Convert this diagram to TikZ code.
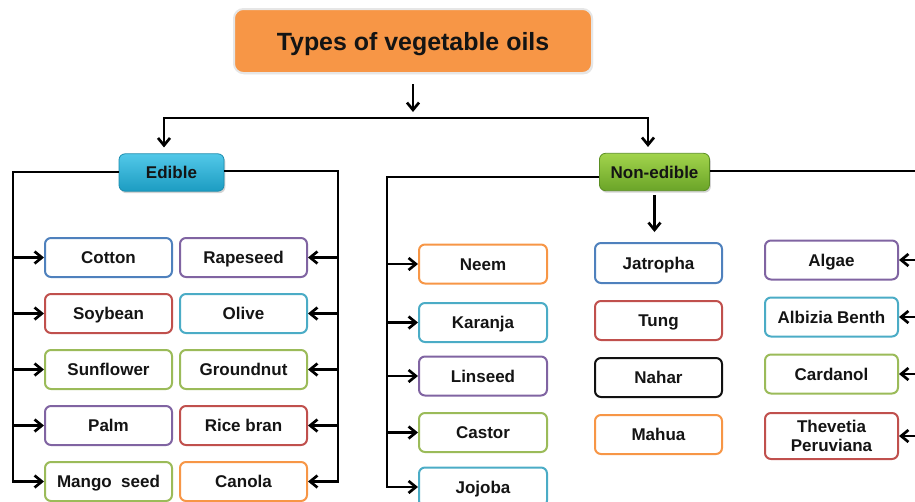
\documentclass[tikz,border=0pt]{standalone}
\usepackage{fontspec}
\setmainfont{Liberation Sans}
\usetikzlibrary{arrows.meta,shadows}
\definecolor{cblue}{HTML}{4F81BD}
\definecolor{cpurple}{HTML}{8064A2}
\definecolor{cred}{HTML}{C0504D}
\definecolor{caqua}{HTML}{4BACC6}
\definecolor{cgreen}{HTML}{9BBB59}
\definecolor{corange}{HTML}{F79646}
\definecolor{cblack}{HTML}{111111}
\definecolor{titlefill}{HTML}{F79646}
\definecolor{titleedge}{HTML}{E6E6E6}
\definecolor{edtop}{HTML}{52C8E8}
\definecolor{edbot}{HTML}{1C9CC2}
\definecolor{ededge}{HTML}{1A8CAE}
\definecolor{netop}{HTML}{A2D44C}
\definecolor{nebot}{HTML}{6AA428}
\definecolor{needge}{HTML}{5A8E22}
\definecolor{txt}{HTML}{141414}
\begin{document}
\begin{tikzpicture}[x=0.75pt,y=-0.75pt,
  ln/.style={line width=2pt, draw=black},
  arr/.style={ln, -{Straight Barb[length=5.5pt,width=9pt]}},
  itembase/.style={draw=#1, line width=1.5pt, rounded corners=4.5pt, fill=white,
    minimum height=29.25pt, inner sep=0pt, text=txt, align=center,
    font=\fontsize{12.75}{14.5}\selectfont\bfseries},
  item/.style={itembase=#1, text height=9.2pt, text depth=0pt},
  ecol/.style={minimum width=95.25pt},
  ncola/.style={minimum width=96pt},
  ncolb/.style={minimum width=95.25pt},
  ncolc/.style={minimum width=99.75pt},
  category/.style={draw=#1, line width=0.6pt, rounded corners=4.5pt, inner sep=0pt,
    minimum height=28pt, text=txt, font=\fontsize{12.75}{14.5}\selectfont\bfseries,
    text height=9.2pt, text depth=0pt,
    drop shadow={shadow xshift=1pt, shadow yshift=-1.5pt, opacity=0.35}},
  titlebox/.style={draw=titleedge, line width=1.5pt, fill=titlefill, rounded corners=7pt,
    minimum width=268.5pt, minimum height=48pt, inner sep=0pt, text=txt,
    font=\fontsize{18.7}{22}\selectfont\bfseries, text height=13.5pt, text depth=0pt,
    drop shadow={shadow xshift=0.8pt, shadow yshift=-1pt, opacity=0.2}}
]
\useasboundingbox (0,0) rectangle (915,501);
\clip (0,0) rectangle (915,501);

% title and categories
\node[titlebox] (title) at (413,41) {Types of vegetable oils};
\node[category=ededge, top color=edtop, bottom color=edbot, minimum width=78.75pt] (edible) at (171.5,172.5) {Edible};
\node[category=needge, top color=netop, bottom color=nebot, minimum width=82.5pt] (ne) at (654.5,172) {Non-edible};

% edible items
\node[item=cblue,   ecol] (cotton)    at (108.5,257.5) {Cotton};
\node[item=cred,    ecol] (soybean)   at (108.5,313.5) {Soybean};
\node[item=cgreen,  ecol] (sunflower) at (108.5,369.5) {Sunflower};
\node[item=cpurple, ecol] (palm)      at (108.5,425.5) {Palm};
\node[item=cgreen,  ecol] (mango)     at (108.5,481.5) {Mango~~seed};
\node[item=cpurple, ecol] (rapeseed)  at (243.5,257.5) {Rapeseed};
\node[item=caqua,   ecol] (olive)     at (243.5,313.5) {Olive};
\node[item=cgreen,  ecol] (groundnut) at (243.5,369.5) {Groundnut};
\node[item=cred,    ecol] (ricebran)  at (243.5,425.5) {Rice bran};
\node[item=corange, ecol] (canola)    at (243.5,481.5) {Canola};

% non-edible items
\node[item=corange, ncola] (neem)    at (483,264)   {Neem};
\node[item=caqua,   ncola] (karanja) at (483,322.5) {Karanja};
\node[item=cpurple, ncola] (linseed) at (483,376)   {Linseed};
\node[item=cgreen,  ncola] (castor)  at (483,432.5) {Castor};
\node[item=caqua,   ncola] (jojoba)  at (483,487)   {Jojoba};
\node[item=cblue,   ncolb, minimum height=30pt] (jatropha) at (658.5,263) {Jatropha};
\node[item=cred,    ncolb] (tung)    at (658.5,320.5) {Tung};
\node[item=cblack,  ncolb] (nahar)   at (658.5,377.5) {Nahar};
\node[item=corange, ncolb] (mahua)   at (658.5,434.5) {Mahua};
\node[item=cpurple, ncolc] (algae)    at (831.5,260) {Algae};
\node[item=caqua,   ncolc] (albizia)  at (831.5,317) {Albizia Benth};
\node[item=cgreen,  ncolc] (cardanol) at (831.5,374) {Cardanol};
\node[itembase=cred, ncolc, minimum height=34.5pt] (thevetia) at (831.5,436) {Thevetia\\Peruviana};

% coordinates
\coordinate (hl) at (164,118);
\coordinate (hr) at (648,118);
\coordinate (eL) at (13,172);
\coordinate (eR) at (338,171);
\coordinate (nL) at (387,177);
\coordinate (nR) at (935,171);

% top connectors
\draw[arr, shorten <=7.5pt, shorten >=4.5pt] (title.south) -- (title.south |- hl);
\draw[arr, shorten >=4.5pt] (hr) -- (hl) -- (hl |- edible.north);
\draw[arr, shorten >=4.5pt] (hl) -- (hr) -- (hr |- ne.north);

% edible connectors
\draw[arr] (edible.west |- eL) -- (eL) -- (eL |- mango.west) -- (mango.west);
\foreach \n in {cotton,soybean,sunflower,palm}
  \draw[arr] (eL |- \n.west) -- (\n.west);
\draw[arr] (edible.east |- eR) -- (eR) -- (eR |- canola.east) -- (canola.east);
\foreach \n in {rapeseed,olive,groundnut,ricebran}
  \draw[arr] (eR |- \n.east) -- (\n.east);

% non-edible connectors
\draw[arr] (ne.west |- nL) -- (nL) -- (nL |- jojoba.west) -- (jojoba.west);
\foreach \n in {neem,karanja,linseed,castor}
  \draw[arr] (nL |- \n.west) -- (\n.west);
\draw[arr, shorten <=3pt, shorten >=7.5pt] (ne.south) -- (ne.south |- jatropha.north);
\draw[ln] (ne.east |- nR) -- (nR);
\foreach \n in {algae,albizia,cardanol,thevetia}
  \draw[arr] (nR |- \n.east) -- (\n.east);
\end{tikzpicture}
\end{document}
